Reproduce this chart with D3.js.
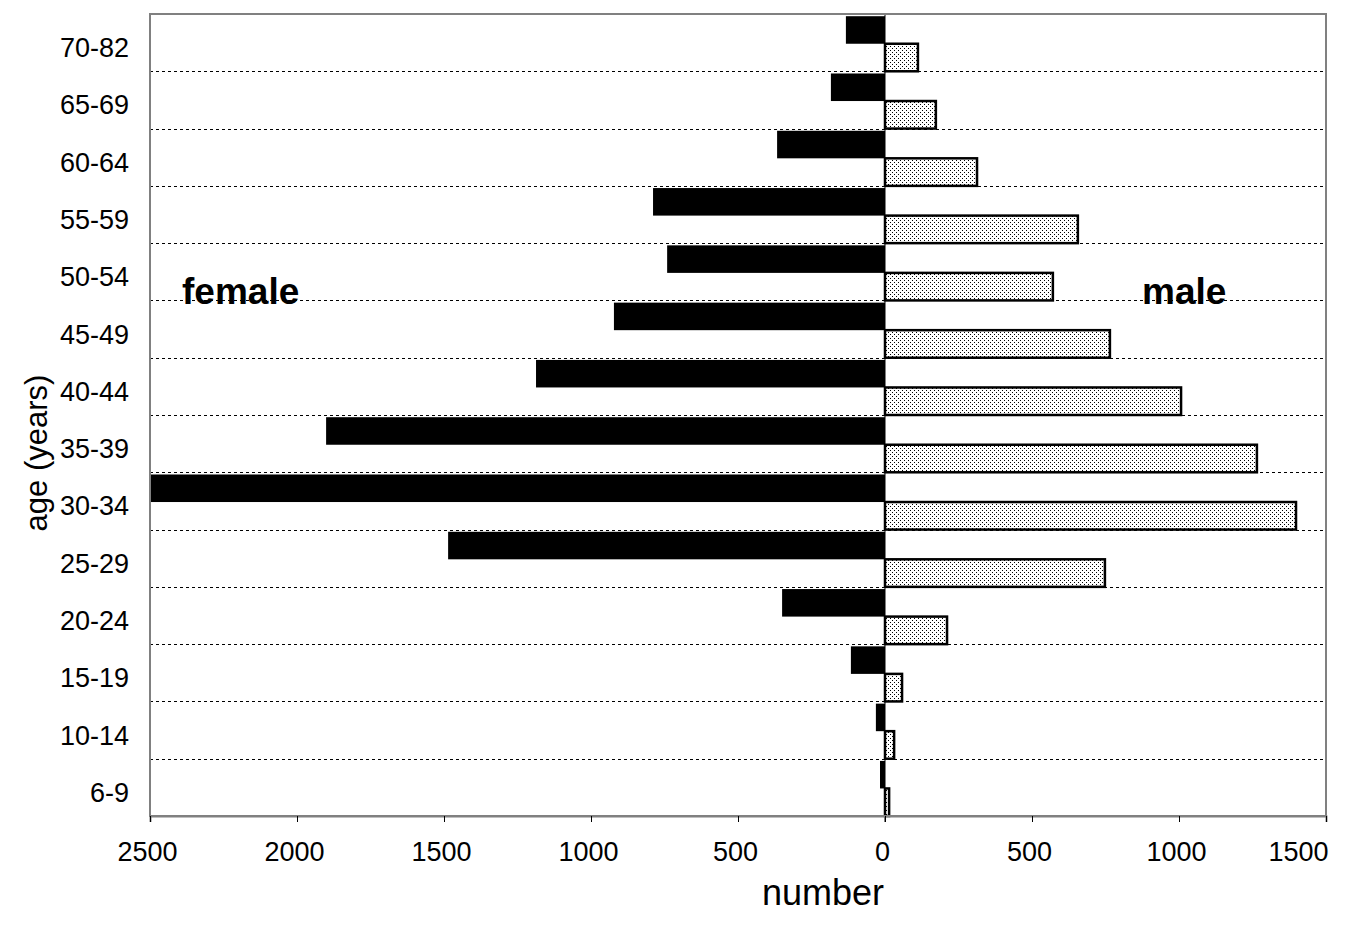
<!DOCTYPE html>
<html>
<head>
<meta charset="utf-8">
<script src="https://cdn.jsdelivr.net/npm/d3@7"></script>
<style>
  body { margin: 0; background: #fff; }
  text { font-family: "Liberation Sans", Arial, sans-serif; }
</style>
</head>
<body>
<svg id="chart" width="1350" height="943"></svg>
<script>
// age groups, top to bottom
const ageGroups = ["70-82", "65-69", "60-64", "55-59", "50-54", "45-49", "40-44",
                   "35-39", "30-34", "25-29", "20-24", "15-19", "10-14", "6-9"];
const female = [133, 184, 367, 789, 741, 922, 1187, 1901, 2500, 1486, 350, 116, 31, 17];
const male   = [112, 173, 313, 656, 571, 765, 1007, 1265, 1398, 748, 211, 58, 31, 14];
const xTicks = [-2500, -2000, -1500, -1000, -500, 0, 500, 1000, 1500];

const svg = d3.select("#chart");
const margin = { top: 14, right: 24, bottom: 127, left: 150 };
const width = 1350 - margin.left - margin.right;
const height = 943 - margin.top - margin.bottom;

// dotted fill for the male bars
const defs = svg.append("defs");
const pat = defs.append("pattern")
    .attr("id", "dots")
    .attr("width", 4).attr("height", 4)
    .attr("patternUnits", "userSpaceOnUse");
pat.append("rect").attr("width", 4).attr("height", 4).attr("fill", "#fff");
pat.append("rect").attr("x", 0).attr("y", 0).attr("width", 1).attr("height", 1).attr("fill", "#000");
pat.append("rect").attr("x", 2).attr("y", 2).attr("width", 1).attr("height", 1).attr("fill", "#000");

const g = svg.append("g").attr("transform", `translate(${margin.left},${margin.top})`);

const x = d3.scaleLinear().domain([-2500, 1500]).range([0, width]);
const y = d3.scaleBand().domain(ageGroups).range([0, height]).padding(0);
const sub = d3.scaleBand().domain(["f", "m"]).range([0, y.bandwidth()]).paddingOuter(0.04).paddingInner(0).align(1);

// dotted grid lines between groups
g.selectAll(".grid")
    .data(ageGroups.slice(1))
    .enter()
    .append("line")
    .attr("x1", 0).attr("x2", width)
    .attr("y1", d => Math.round(y(d)) + 0.5)
    .attr("y2", d => Math.round(y(d)) + 0.5)
    .attr("stroke", "#000")
    .attr("stroke-width", 1)
    .attr("stroke-dasharray", "3,3");

// female bars (drawn to the left)
g.selectAll(".fbar")
    .data(female)
    .enter()
    .append("rect")
    .attr("x", d => x(-d))
    .attr("y", (d, i) => y(ageGroups[i]) + sub("f"))
    .attr("width", d => x(0) - x(-d))
    .attr("height", sub.bandwidth())
    .attr("fill", "#000");

// male bars
g.selectAll(".mbar")
    .data(male)
    .enter()
    .append("rect")
    .attr("x", x(0))
    .attr("y", (d, i) => y(ageGroups[i]) + sub("m"))
    .attr("width", d => x(d) - x(0))
    .attr("height", sub.bandwidth())
    .attr("fill", "url(#dots)")
    .attr("stroke", "#000")
    .attr("stroke-width", 2.5);

// zero line
g.append("line")
    .attr("x1", x(0)).attr("x2", x(0))
    .attr("y1", 0).attr("y2", height + 6)
    .attr("stroke", "#000")
    .attr("stroke-width", 1);

// frame
g.append("rect")
    .attr("x", 0).attr("y", 0)
    .attr("width", width).attr("height", height)
    .attr("fill", "none")
    .attr("stroke", "#808080")
    .attr("stroke-width", 2);

// x axis
const xAxis = g.append("g")
    .attr("transform", `translate(0,${height})`)
    .call(d3.axisBottom(x).tickValues(xTicks).tickSize(6).tickPadding(20)
        .tickFormat(d => Math.abs(d)));
xAxis.select(".domain").attr("stroke", "#808080").attr("stroke-width", 2);
xAxis.selectAll(".tick line").attr("stroke", "#000");
xAxis.selectAll(".tick text").attr("font-size", 27).attr("fill", "#000")
    .attr("font-family", "Liberation Sans, Arial, sans-serif")
    .attr("dx", -3);
// last label pushed inside like the original
xAxis.selectAll(".tick text").filter(d => d === 1500)
    .attr("text-anchor", "end").attr("dx", 2);

// y axis labels
g.selectAll(".ylab")
    .data(ageGroups)
    .enter()
    .append("text")
    .attr("x", -21)
    .attr("y", d => y(d) + y.bandwidth() / 2 + 5)
    .attr("dy", "0.35em")
    .attr("text-anchor", "end")
    .attr("font-size", 27)
    .text(d => d);

// axis titles
svg.append("text")
    .attr("x", 823).attr("y", 905)
    .attr("text-anchor", "middle")
    .attr("font-size", 36)
    .text("number");

svg.append("text")
    .attr("transform", "translate(47,453) rotate(-90)")
    .attr("text-anchor", "middle")
    .attr("font-size", 31)
    .text("age (years)");

// sex labels
g.append("text")
    .attr("x", 182 - margin.left).attr("y", 304 - margin.top)
    .attr("font-size", 37).attr("font-weight", "bold")
    .text("female");
g.append("text")
    .attr("x", 1142 - margin.left).attr("y", 304 - margin.top)
    .attr("font-size", 37).attr("font-weight", "bold")
    .text("male");
</script>
</body>
</html>
